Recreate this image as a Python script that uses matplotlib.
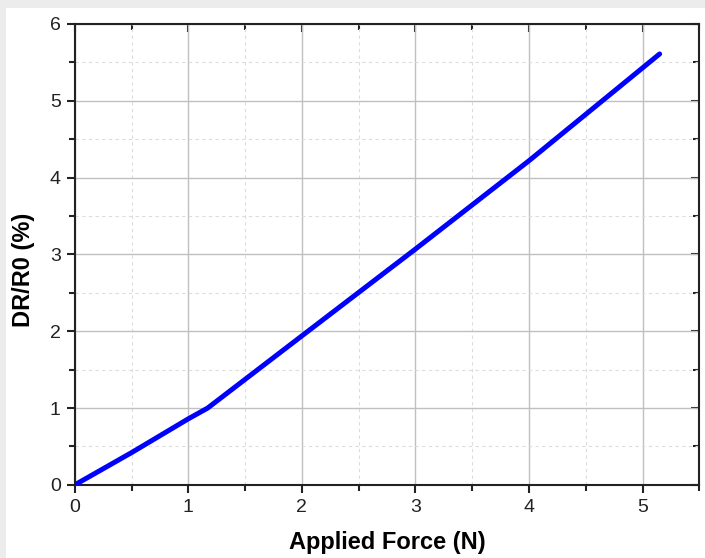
import matplotlib.pyplot as plt
from matplotlib.patches import Rectangle
from matplotlib.ticker import MultipleLocator

# data
force = [0.0, 0.5, 1.0, 1.17, 2.0, 3.0, 4.0, 5.15]
dr_r0 = [0.0, 0.42, 0.86, 1.0, 1.94, 3.07, 4.22, 5.61]

plt.rcParams['font.family'] = ['Liberation Sans', 'DejaVu Sans']

fig = plt.figure(figsize=(7.05, 5.58), dpi=100, facecolor='#ececec')
# white page area (screenshot has a thin grey border top/left)
fig.patches.append(Rectangle((6 / 705, 0), 1, 1 - 8 / 558, transform=fig.transFigure,
                             facecolor='white', edgecolor='none', zorder=-10))

ax = fig.add_axes([0.106, 0.131, 0.886, 0.826])

ax.plot(force, dr_r0, color='#0000ff', lw=3.6, solid_capstyle='round', zorder=3)

ax.set_xlim(0, 5.5)
ax.set_ylim(0, 6)
ax.xaxis.set_major_locator(MultipleLocator(1))
ax.xaxis.set_minor_locator(MultipleLocator(0.5))
ax.yaxis.set_major_locator(MultipleLocator(1))
ax.yaxis.set_minor_locator(MultipleLocator(0.5))

# grid
ax.grid(which='major', color='#c0c0c0', lw=1.0, ls='-')
ax.grid(which='minor', color='#dcdcdc', lw=0.8, ls=(0, (3, 3)))
ax.set_axisbelow(True)

for s in ax.spines.values():
    s.set_linewidth(1.5)
    s.set_color('#222222')

ax.tick_params(which='major', direction='out', length=6, width=1.5, labelsize=14,
               colors='#222222', pad=4)
ax.tick_params(which='minor', direction='out', length=4, width=1.5, colors='#222222')

# inward ticks on top and right
top = ax.secondary_xaxis('top')
top.xaxis.set_major_locator(MultipleLocator(1))
top.xaxis.set_minor_locator(MultipleLocator(0.5))
top.tick_params(which='major', direction='in', length=6, width=1.5, labeltop=False, colors='#222222')
top.tick_params(which='minor', direction='in', length=4, width=1.5, colors='#222222')
right = ax.secondary_yaxis('right')
right.yaxis.set_major_locator(MultipleLocator(1))
right.yaxis.set_minor_locator(MultipleLocator(0.5))
right.tick_params(which='major', direction='in', length=6, width=1.5, labelright=False, colors='#222222')
right.tick_params(which='minor', direction='in', length=4, width=1.5, colors='#222222')
for sa in (top, right):
    for s in sa.spines.values():
        s.set_visible(False)

ax.set_xlabel('Applied Force (N)', fontsize=17, fontweight='bold', labelpad=11)
ax.set_ylabel('DR/R0 (%)', fontsize=17, fontweight='bold')
ax.yaxis.set_label_coords(-0.064, 0.466)

fig.savefig('out.png', dpi=100, facecolor=fig.get_facecolor())
